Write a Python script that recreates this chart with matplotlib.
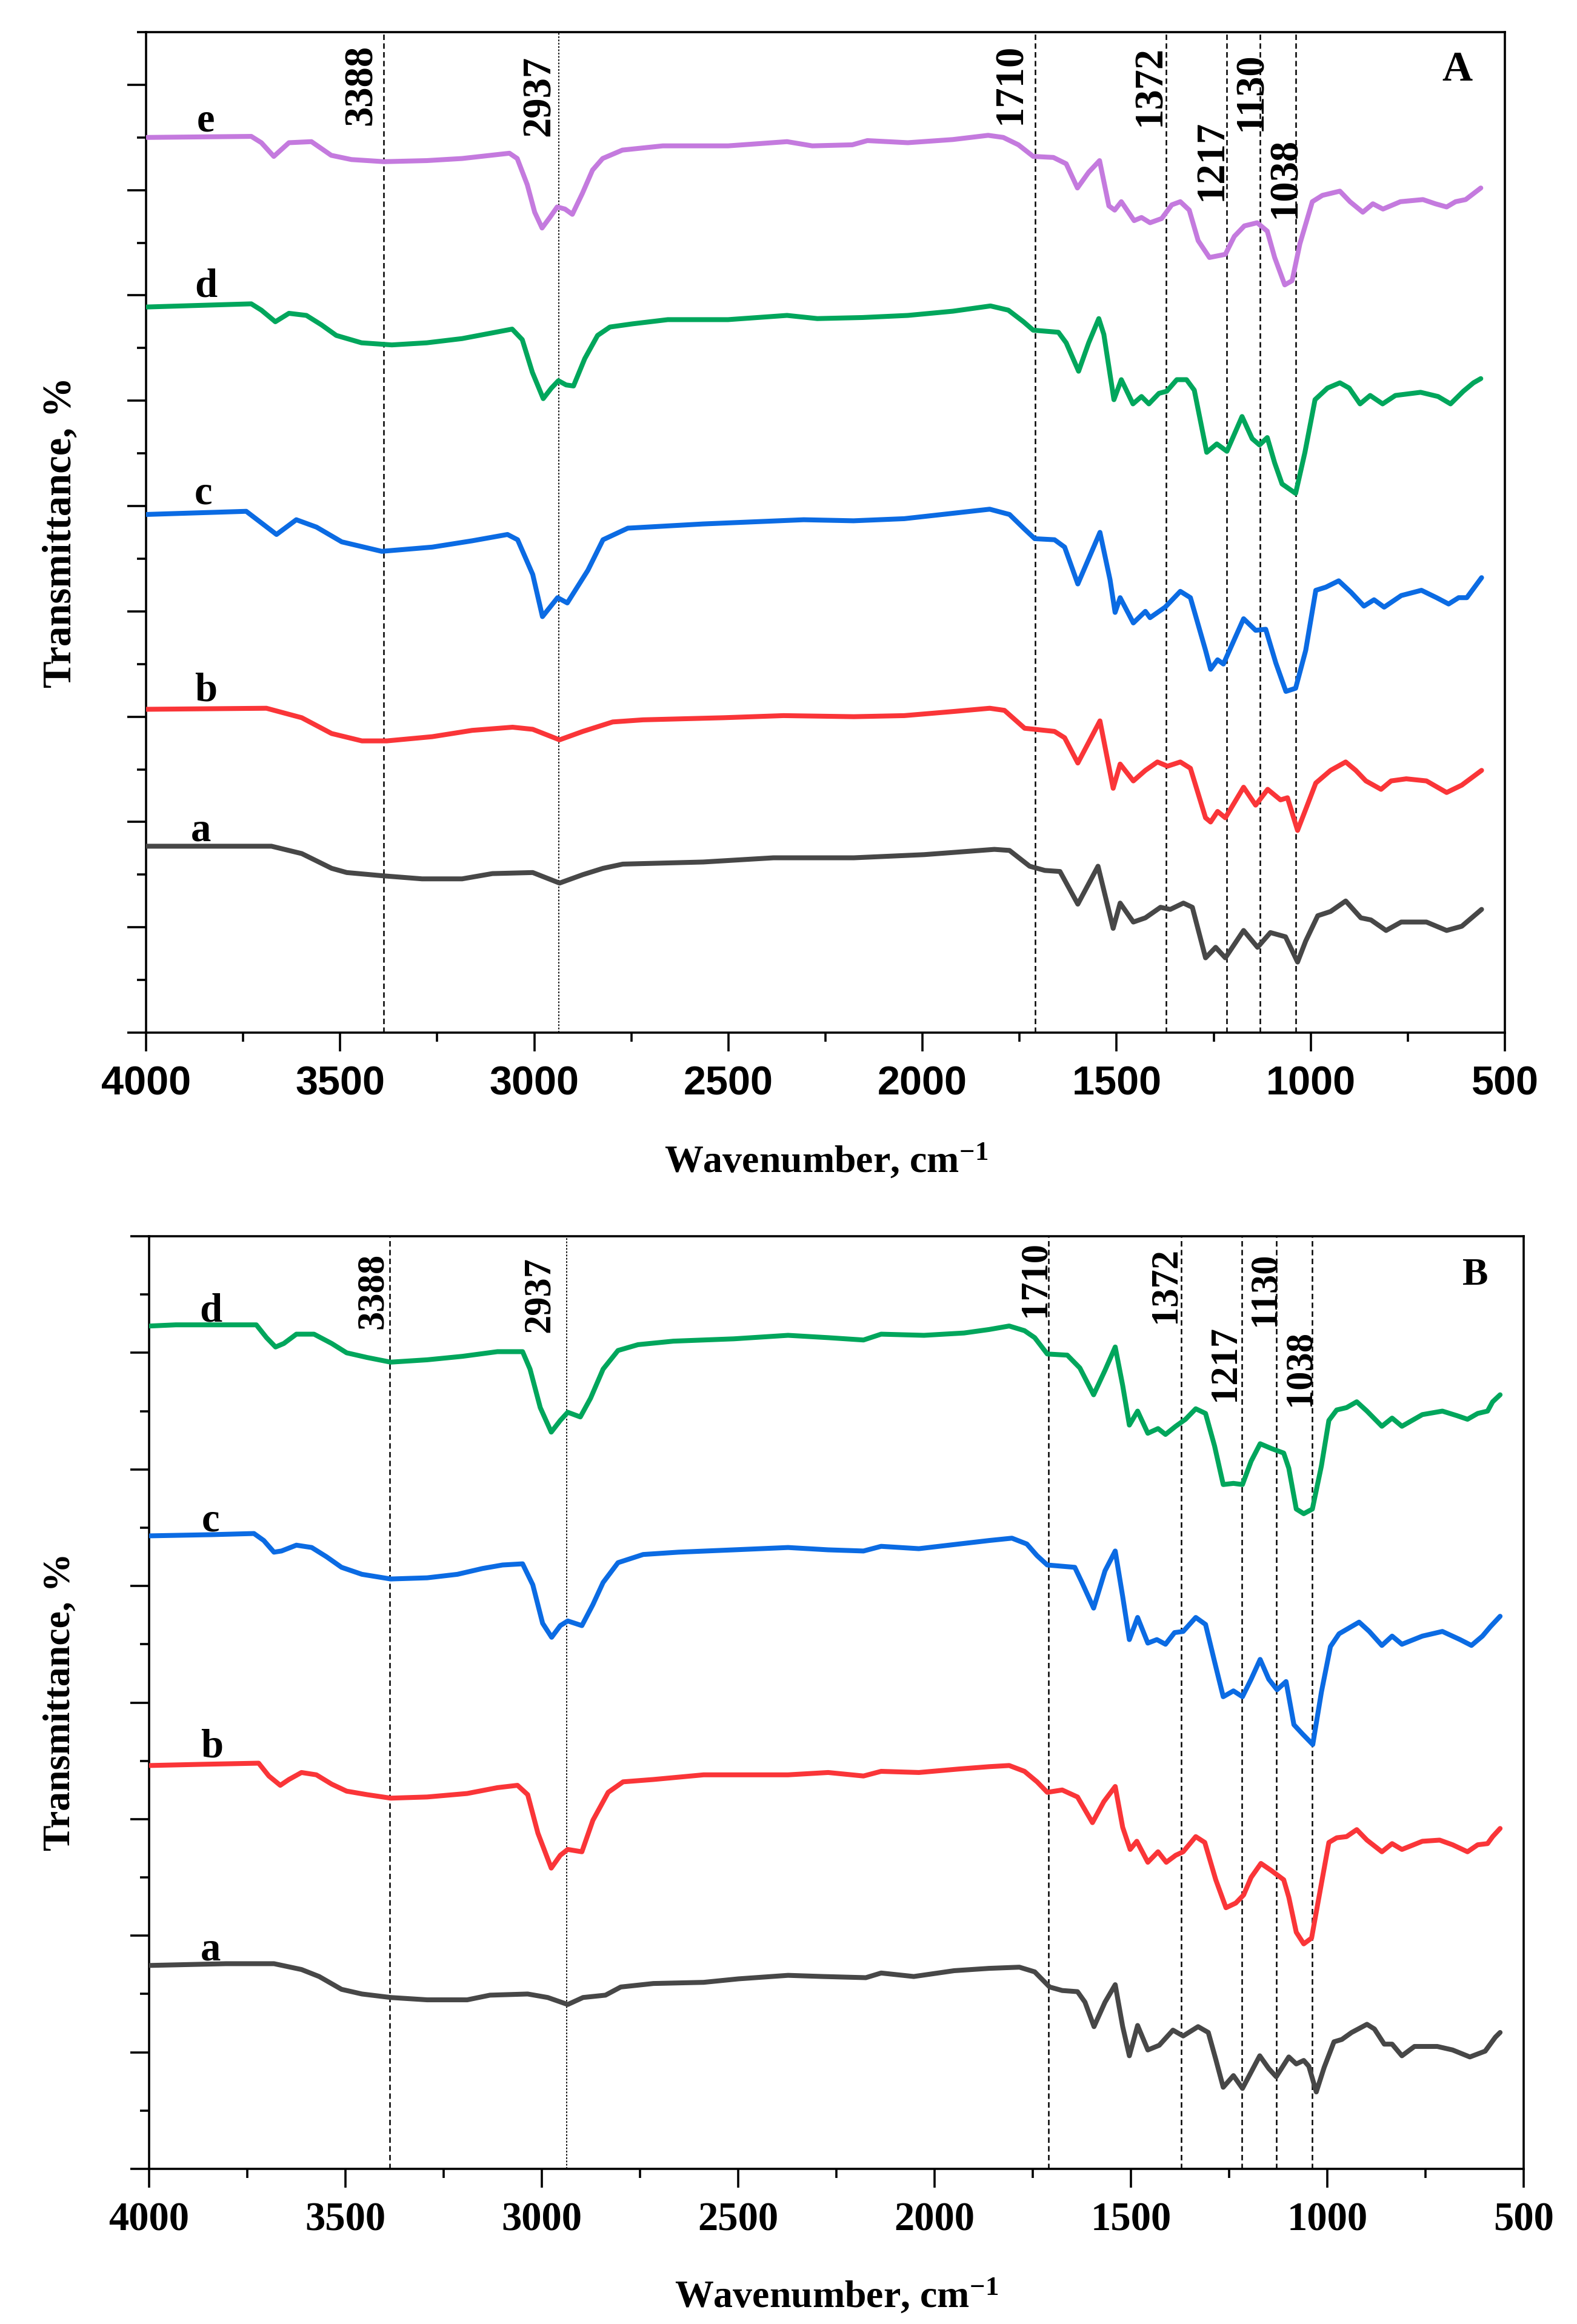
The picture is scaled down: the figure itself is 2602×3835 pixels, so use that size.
import matplotlib
matplotlib.use("Agg")
import matplotlib.pyplot as plt
from matplotlib.ticker import MultipleLocator, NullFormatter

plt.rcParams['mathtext.default'] = 'regular'

# ---------------- DATA ----------------
# Panel A
A_e_wn = [3998, 3729, 3703, 3671, 3632, 3574, 3523, 3471, 3387, 3277, 3186, 3064, 3044, 3018, 2999, 2980, 2960, 2941, 2921, 2902, 2876, 2850, 2824, 2773, 2669, 2501, 2349, 2284, 2181, 2142, 2038, 1922, 1831, 1792, 1753, 1715, 1663, 1630, 1601, 1572, 1544, 1520, 1505, 1488, 1455, 1436, 1414, 1384, 1358, 1336, 1313, 1290, 1261, 1220, 1197, 1171, 1138, 1112, 1093, 1067, 1048, 1028, 996, 970, 925, 899, 866, 840, 814, 769, 711, 679, 650, 627, 601, 562]
A_e_t = [8.50, 8.51, 8.45, 8.32, 8.45, 8.46, 8.33, 8.29, 8.27, 8.28, 8.30, 8.35, 8.30, 8.05, 7.79, 7.64, 7.74, 7.84, 7.82, 7.77, 7.97, 8.19, 8.30, 8.38, 8.42, 8.42, 8.46, 8.42, 8.43, 8.47, 8.45, 8.48, 8.52, 8.50, 8.43, 8.32, 8.31, 8.25, 8.02, 8.17, 8.28, 7.85, 7.81, 7.89, 7.71, 7.74, 7.69, 7.73, 7.86, 7.89, 7.81, 7.52, 7.36, 7.39, 7.56, 7.66, 7.69, 7.61, 7.36, 7.10, 7.14, 7.49, 7.89, 7.95, 7.99, 7.89, 7.79, 7.87, 7.82, 7.89, 7.91, 7.87, 7.84, 7.89, 7.91, 8.02]

A_d_wn = [3998, 3820, 3729, 3703, 3667, 3632, 3587, 3548, 3510, 3445, 3367, 3277, 3186, 3057, 3031, 3005, 2977, 2956, 2938, 2918, 2899, 2870, 2837, 2805, 2747, 2656, 2501, 2349, 2271, 2155, 2038, 1922, 1825, 1779, 1740, 1715, 1650, 1630, 1598, 1572, 1546, 1533, 1507, 1488, 1458, 1436, 1417, 1391, 1371, 1345, 1320, 1300, 1268, 1242, 1216, 1177, 1151, 1132, 1112, 1093, 1074, 1039, 1015, 989, 957, 925, 901, 873, 847, 815, 782, 717, 672, 640, 607, 581, 562]
A_d_t = [6.89, 6.91, 6.92, 6.86, 6.75, 6.83, 6.81, 6.72, 6.62, 6.55, 6.53, 6.55, 6.59, 6.68, 6.58, 6.27, 6.02, 6.12, 6.19, 6.15, 6.14, 6.40, 6.62, 6.70, 6.73, 6.77, 6.77, 6.81, 6.78, 6.79, 6.81, 6.85, 6.90, 6.86, 6.75, 6.67, 6.65, 6.55, 6.28, 6.55, 6.78, 6.63, 6.01, 6.20, 5.97, 6.04, 5.97, 6.07, 6.09, 6.20, 6.20, 6.10, 5.51, 5.59, 5.52, 5.85, 5.64, 5.58, 5.65, 5.41, 5.21, 5.12, 5.51, 6.01, 6.12, 6.17, 6.12, 5.97, 6.05, 5.97, 6.05, 6.08, 6.04, 5.97, 6.09, 6.17, 6.21]

A_c_wn = [4000, 3742, 3664, 3613, 3561, 3496, 3393, 3263, 3160, 3069, 3043, 3004, 2979, 2940, 2915, 2862, 2823, 2759, 2565, 2306, 2178, 2047, 1827, 1776, 1737, 1711, 1660, 1634, 1600, 1543, 1517, 1504, 1491, 1457, 1426, 1414, 1375, 1336, 1310, 1271, 1258, 1240, 1225, 1173, 1142, 1116, 1090, 1064, 1039, 1013, 987, 961, 928, 896, 863, 837, 811, 767, 715, 676, 645, 619, 598, 560]
A_c_t = [4.92, 4.95, 4.73, 4.87, 4.80, 4.66, 4.57, 4.61, 4.67, 4.73, 4.68, 4.35, 3.95, 4.13, 4.08, 4.39, 4.68, 4.79, 4.83, 4.87, 4.86, 4.88, 4.97, 4.92, 4.78, 4.69, 4.68, 4.61, 4.26, 4.75, 4.30, 3.99, 4.13, 3.89, 4.00, 3.94, 4.04, 4.19, 4.13, 3.63, 3.45, 3.54, 3.50, 3.93, 3.82, 3.83, 3.51, 3.24, 3.27, 3.63, 4.20, 4.23, 4.29, 4.18, 4.05, 4.11, 4.04, 4.15, 4.20, 4.13, 4.07, 4.13, 4.13, 4.32]

A_b_wn = [4000, 3690, 3599, 3522, 3444, 3380, 3263, 3160, 3056, 3004, 2935, 2875, 2798, 2720, 2513, 2358, 2177, 2047, 1918, 1827, 1789, 1737, 1711, 1660, 1634, 1600, 1543, 1509, 1491, 1457, 1426, 1395, 1369, 1336, 1310, 1271, 1258, 1240, 1220, 1173, 1142, 1111, 1078, 1060, 1034, 1013, 987, 949, 910, 884, 858, 819, 793, 754, 702, 650, 611, 560]
A_b_t = [3.07, 3.08, 2.99, 2.84, 2.77, 2.77, 2.81, 2.87, 2.90, 2.88, 2.78, 2.86, 2.95, 2.97, 2.99, 3.01, 3.00, 3.01, 3.05, 3.08, 3.06, 2.89, 2.88, 2.86, 2.80, 2.56, 2.96, 2.32, 2.55, 2.39, 2.49, 2.57, 2.53, 2.57, 2.51, 2.04, 2.00, 2.10, 2.04, 2.33, 2.16, 2.31, 2.21, 2.23, 1.92, 2.12, 2.37, 2.49, 2.57, 2.49, 2.39, 2.31, 2.39, 2.41, 2.39, 2.28, 2.35, 2.49]

A_a_wn = [4000, 3677, 3599, 3522, 3483, 3393, 3289, 3186, 3108, 3004, 2935, 2875, 2823, 2772, 2565, 2384, 2177, 1996, 1815, 1776, 1724, 1685, 1646, 1600, 1548, 1509, 1491, 1457, 1426, 1387, 1362, 1328, 1305, 1271, 1245, 1220, 1173, 1137, 1104, 1065, 1034, 1013, 982, 949, 910, 871, 845, 806, 767, 702, 650, 611, 560]
A_a_t = [1.77, 1.77, 1.70, 1.56, 1.52, 1.49, 1.46, 1.46, 1.51, 1.52, 1.42, 1.50, 1.56, 1.60, 1.62, 1.66, 1.66, 1.69, 1.74, 1.73, 1.58, 1.54, 1.53, 1.22, 1.58, 0.99, 1.23, 1.05, 1.09, 1.19, 1.17, 1.23, 1.19, 0.71, 0.81, 0.71, 0.97, 0.81, 0.95, 0.91, 0.67, 0.87, 1.11, 1.15, 1.25, 1.09, 1.07, 0.97, 1.05, 1.05, 0.97, 1.01, 1.17]

# Panel B
B_d_wn = [3998, 3932, 3727, 3701, 3678, 3657, 3625, 3580, 3535, 3497, 3445, 3385, 3292, 3202, 3113, 3049, 3030, 3004, 2976, 2953, 2934, 2902, 2876, 2844, 2806, 2755, 2665, 2511, 2373, 2271, 2181, 2136, 2027, 1925, 1861, 1810, 1771, 1745, 1713, 1662, 1630, 1595, 1566, 1540, 1521, 1504, 1483, 1457, 1431, 1412, 1386, 1361, 1335, 1310, 1287, 1265, 1239, 1216, 1194, 1171, 1143, 1111, 1098, 1079, 1060, 1038, 1015, 996, 976, 951, 925, 899, 861, 835, 810, 758, 707, 669, 643, 617, 592, 579, 560]
B_d_t = [7.23, 7.24, 7.24, 7.13, 7.05, 7.08, 7.16, 7.16, 7.08, 7.00, 6.96, 6.92, 6.94, 6.97, 7.01, 7.01, 6.86, 6.53, 6.32, 6.42, 6.49, 6.45, 6.61, 6.86, 7.02, 7.07, 7.10, 7.12, 7.15, 7.13, 7.11, 7.16, 7.15, 7.17, 7.20, 7.23, 7.19, 7.13, 6.99, 6.98, 6.87, 6.64, 6.85, 7.05, 6.72, 6.38, 6.50, 6.31, 6.35, 6.30, 6.37, 6.43, 6.52, 6.48, 6.20, 5.87, 5.88, 5.87, 6.07, 6.22, 6.18, 6.14, 6.01, 5.66, 5.62, 5.66, 6.03, 6.42, 6.51, 6.53, 6.58, 6.50, 6.37, 6.44, 6.37, 6.47, 6.50, 6.46, 6.43, 6.48, 6.50, 6.58, 6.64]

B_c_wn = [3998, 3842, 3733, 3708, 3682, 3663, 3625, 3586, 3548, 3510, 3458, 3385, 3292, 3215, 3151, 3100, 3049, 3023, 2998, 2975, 2953, 2934, 2898, 2870, 2844, 2806, 2742, 2652, 2511, 2373, 2271, 2181, 2136, 2040, 1938, 1861, 1803, 1765, 1739, 1713, 1643, 1626, 1595, 1566, 1540, 1521, 1504, 1483, 1457, 1434, 1412, 1389, 1367, 1335, 1310, 1287, 1265, 1239, 1216, 1194, 1171, 1149, 1128, 1105, 1085, 1063, 1037, 1015, 992, 970, 919, 893, 861, 835, 810, 758, 707, 662, 633, 605, 585, 560]
B_c_t = [5.43, 5.44, 5.45, 5.39, 5.29, 5.30, 5.35, 5.33, 5.25, 5.16, 5.10, 5.06, 5.07, 5.10, 5.15, 5.18, 5.19, 5.01, 4.68, 4.56, 4.66, 4.70, 4.66, 4.84, 5.03, 5.20, 5.27, 5.29, 5.31, 5.33, 5.31, 5.30, 5.34, 5.32, 5.36, 5.39, 5.41, 5.36, 5.26, 5.18, 5.16, 5.04, 4.81, 5.13, 5.30, 4.91, 4.54, 4.73, 4.51, 4.54, 4.50, 4.60, 4.61, 4.73, 4.67, 4.35, 4.05, 4.10, 4.05, 4.20, 4.37, 4.20, 4.11, 4.18, 3.81, 3.73, 3.64, 4.09, 4.48, 4.59, 4.69, 4.61, 4.49, 4.57, 4.50, 4.57, 4.61, 4.54, 4.49, 4.57, 4.65, 4.74]

B_b_wn = [3998, 3868, 3721, 3695, 3666, 3644, 3612, 3574, 3535, 3497, 3445, 3385, 3292, 3190, 3113, 3062, 3036, 3010, 2976, 2953, 2934, 2898, 2870, 2831, 2793, 2716, 2588, 2460, 2373, 2271, 2181, 2136, 2040, 1938, 1861, 1810, 1771, 1739, 1713, 1675, 1636, 1598, 1569, 1540, 1521, 1502, 1485, 1457, 1431, 1410, 1386, 1367, 1335, 1312, 1284, 1258, 1233, 1213, 1194, 1169, 1143, 1111, 1098, 1079, 1060, 1040, 1017, 996, 976, 951, 925, 899, 861, 835, 810, 758, 714, 681, 643, 617, 592, 579, 560]
B_b_t = [3.46, 3.47, 3.48, 3.37, 3.29, 3.34, 3.40, 3.38, 3.30, 3.24, 3.21, 3.18, 3.19, 3.22, 3.27, 3.29, 3.21, 2.88, 2.58, 2.69, 2.74, 2.72, 2.99, 3.23, 3.32, 3.34, 3.38, 3.38, 3.38, 3.40, 3.37, 3.41, 3.40, 3.43, 3.45, 3.46, 3.41, 3.32, 3.23, 3.25, 3.19, 2.97, 3.15, 3.28, 2.93, 2.74, 2.81, 2.63, 2.72, 2.63, 2.69, 2.72, 2.85, 2.80, 2.48, 2.24, 2.28, 2.35, 2.50, 2.62, 2.56, 2.48, 2.33, 2.03, 1.93, 1.98, 2.41, 2.80, 2.84, 2.85, 2.91, 2.82, 2.72, 2.79, 2.74, 2.81, 2.82, 2.78, 2.72, 2.78, 2.79, 2.85, 2.92]

B_a_wn = [3998, 3804, 3682, 3612, 3567, 3510, 3458, 3385, 3292, 3190, 3132, 3036, 2985, 2934, 2895, 2838, 2799, 2716, 2588, 2499, 2373, 2284, 2175, 2136, 2053, 1950, 1861, 1784, 1745, 1707, 1675, 1636, 1617, 1594, 1566, 1540, 1521, 1504, 1483, 1457, 1428, 1393, 1367, 1329, 1303, 1284, 1265, 1239, 1216, 1194, 1172, 1149, 1130, 1098, 1079, 1060, 1047, 1028, 1008, 983, 963, 938, 899, 880, 855, 835, 810, 778, 720, 681, 637, 598, 572, 560]
B_a_t = [1.745, 1.76, 1.76, 1.71, 1.65, 1.54, 1.50, 1.47, 1.45, 1.45, 1.49, 1.50, 1.47, 1.41, 1.47, 1.49, 1.56, 1.59, 1.60, 1.63, 1.66, 1.65, 1.64, 1.68, 1.65, 1.70, 1.72, 1.73, 1.69, 1.56, 1.53, 1.52, 1.43, 1.22, 1.43, 1.58, 1.22, 0.97, 1.23, 1.02, 1.06, 1.19, 1.14, 1.22, 1.17, 0.94, 0.70, 0.80, 0.69, 0.83, 0.97, 0.86, 0.79, 0.96, 0.90, 0.93, 0.88, 0.66, 0.87, 1.09, 1.11, 1.17, 1.24, 1.20, 1.07, 1.07, 0.97, 1.05, 1.05, 1.02, 0.96, 1.01, 1.13, 1.17]

peaks = [3388, 2937, 1710, 1372, 1217, 1130, 1038]
peak_labels = ["3388", "2937", "1710", "1372", "1217", "1130", "1038"]
x_ticks = [4000, 3500, 3000, 2500, 2000, 1500, 1000, 500]

# ---------------- STYLE / LAYOUT ----------------
W, H = 2602, 3835
DPI = 100
PX = 72.0 / DPI  # points per pixel

SERIF = 'Liberation Serif'
SANS = 'Liberation Sans'

colors = {'a': '#474747', 'b': '#FA3538', 'c': '#0B6BE3', 'd': '#00A65C', 'e': '#C47ADE'}

fig = plt.figure(figsize=(W / DPI, H / DPI), dpi=DPI)

def px_rect(l, r, t, b):
    return [l / W, (H - b) / H, (r - l) / W, (b - t) / H]

axA = fig.add_axes(px_rect(241, 2483, 53, 1704))
axB = fig.add_axes(px_rect(246, 2514, 2040, 3579))

def style_axes(ax, ymax, tickfont):
    ax.set_xlim(4000, 500)
    ax.set_ylim(0, ymax)
    for s in ax.spines.values():
        s.set_linewidth(2.6)
    ax.xaxis.set_major_locator(MultipleLocator(500))
    ax.xaxis.set_minor_locator(MultipleLocator(250))
    ax.yaxis.set_major_locator(MultipleLocator(1))
    ax.yaxis.set_minor_locator(MultipleLocator(0.5))
    ax.yaxis.set_major_formatter(NullFormatter())
    ax.tick_params(axis='both', which='major', direction='out', length=22, width=2.6)
    ax.tick_params(axis='both', which='minor', direction='out', length=11, width=2.6)
    ax.tick_params(axis='x', which='major', pad=17)
    ax.tick_params(top=False, right=False, which='both')
    ax.set_xticks(x_ticks)
    ax.set_xticklabels([str(v) for v in x_ticks], fontfamily=tickfont,
                       fontweight='bold', fontsize=48)

style_axes(axA, 9.5, SANS)
style_axes(axB, 8.0, SERIF)

LW = 5.8

# curves
for ax, series in [
    (axA, [('e', A_e_wn, A_e_t), ('d', A_d_wn, A_d_t), ('c', A_c_wn, A_c_t),
           ('b', A_b_wn, A_b_t), ('a', A_a_wn, A_a_t)]),
    (axB, [('d', B_d_wn, B_d_t), ('c', B_c_wn, B_c_t),
           ('b', B_b_wn, B_b_t), ('a', B_a_wn, B_a_t)]),
]:
    for key, xs, ys in series:
        ax.plot(xs, ys, color=colors[key], lw=LW, solid_joinstyle='round',
                solid_capstyle='round', zorder=3)

# vertical reference lines
for ax in (axA, axB):
    for p in peaks:
        if p == 2937:
            ax.axvline(p, color='black', lw=1.3, ls=(0, (1.6, 1.4)), zorder=2)
        else:
            ax.axvline(p, color='black', lw=1.8, ls=(0, (3.6, 2.2)), zorder=2)

# peak labels: (right-edge offset px, top offset px)
offA = [(-20, 21), (-15, 39), (-23, 19), (-10, 22), (-7, 145), (2, 33), (-1, 174)]
offB = [(-10, 28), (-27, 34), (-5, 8), (-9, 18), (-11, 147), (-2, 26), (-3, 155)]
for ax, offs, fs in ((axA, offA, 48), (axB, offB, 45)):
    for p, lab, (dx, dy) in zip(peaks, peak_labels, offs):
        ax.annotate(lab, xy=(p, 1), xycoords=('data', 'axes fraction'),
                    xytext=((dx + 0.2 * fs / PX) * PX, -dy * PX),
                    textcoords='offset points', rotation=90,
                    ha='right', va='top', fontfamily=SERIF, fontweight='bold',
                    fontsize=fs, zorder=4)

# curve letters
A_letters = [('e', 3847, 8.56), ('d', 3846, 6.99), ('c', 3853, 5.02), ('b', 3846, 3.15), ('a', 3858, 1.82)]
B_letters = [('d', 3843, 7.27), ('c', 3843, 5.47), ('b', 3840, 3.53), ('a', 3843, 1.79)]
for ax, letters in ((axA, A_letters), (axB, B_letters)):
    for key, x, y in letters:
        ax.text(x, y, key, ha='center', va='baseline', fontfamily=SERIF,
                fontweight='bold', fontsize=48, zorder=4)

# panel letters
axA.text(623, 9.14, 'A', ha='center', va='center', fontfamily=SERIF,
         fontweight='bold', fontsize=50)
axB.text(623, 7.66, 'B', ha='center', va='center', fontfamily=SERIF,
         fontweight='bold', fontsize=46)

# axis titles (figure coords in px)
def ftext(xp, yp, s, rot=0, fs=46):
    fig.text(xp / W, 1 - yp / H, s, rotation=rot, ha='center', va='center',
             fontfamily=SERIF, fontweight='bold', fontsize=fs)

ftext(100, 878, 'Transmittance, %', rot=90, fs=48)
ftext(100, 2808, 'Transmittance, %', rot=90)
ftext(1363, 1917, r'Wavenumber, cm$^{-1}$')
ftext(1380, 3790, r'Wavenumber, cm$^{-1}$')

fig.savefig('out.png', dpi=DPI, facecolor='white')
